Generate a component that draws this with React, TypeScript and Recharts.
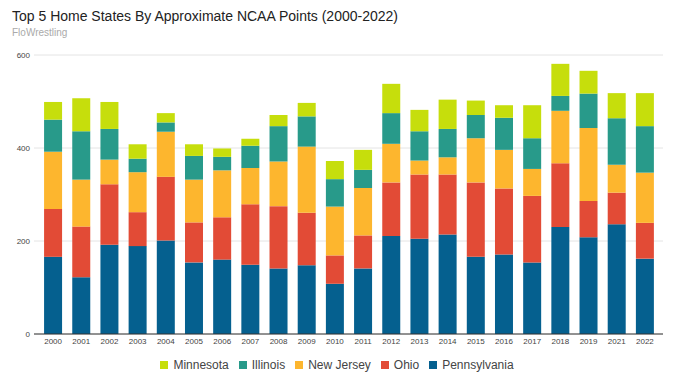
import { Bar, BarChart, CartesianGrid, XAxis, YAxis } from 'recharts';

const years = [
	'2000', '2001', '2002', '2003', '2004', '2005', '2006', '2007', '2008', '2009', '2010',
	'2011', '2012', '2013', '2014', '2015', '2016', '2017', '2018', '2019', '2021', '2022',
];

const pennsylvania = [166, 122, 192, 189, 201, 154, 160, 149, 141, 148, 108, 141, 211, 205, 214, 166, 171, 154, 230, 208, 236, 162];
const ohio = [103, 109, 130, 73, 137, 86, 91, 130, 134, 113, 61, 71, 115, 138, 129, 160, 142, 143, 137, 78, 68, 77];
const newJersey = [123, 101, 53, 86, 97, 92, 101, 78, 96, 142, 105, 102, 83, 30, 37, 95, 83, 58, 113, 157, 60, 108];
const illinois = [69, 104, 66, 29, 20, 51, 29, 48, 76, 65, 59, 39, 66, 63, 61, 50, 69, 66, 32, 74, 100, 100];
const minnesota = [38, 71, 58, 31, 20, 25, 18, 15, 24, 29, 39, 43, 63, 46, 63, 31, 27, 71, 69, 49, 54, 71];

const yTicks = [0, 200, 400, 600];

// bottom to top
const series = [
	{ key: 'pa', name: 'Pennsylvania', color: '#05608f', values: pennsylvania },
	{ key: 'oh', name: 'Ohio', color: '#e24b36', values: ohio },
	{ key: 'nj', name: 'New Jersey', color: '#fdb62e', values: newJersey },
	{ key: 'il', name: 'Illinois', color: '#289a8a', values: illinois },
	{ key: 'mn', name: 'Minnesota', color: '#c6de0c', values: minnesota },
];

const data = years.map((year, i) => {
	const row: Record<string, string | number> = { year };
	series.forEach((s) => {
		row[s.key] = s.values[i];
	});
	return row;
});

const font = '"Liberation Sans", Arial, sans-serif';

export default function App() {
	return (
		<div
			style={{
				position: 'absolute',
				left: 0,
				top: 0,
				width: 680,
				height: 382,
				background: '#fff',
				fontFamily: font,
			}}
		>
			<div style={{ position: 'absolute', left: 12, top: 8, fontSize: 14, color: '#222', whiteSpace: 'nowrap' }}>
				Top 5 Home States By Approximate NCAA Points (2000-2022)
			</div>
			<div style={{ position: 'absolute', left: 12, top: 27, fontSize: 10, color: '#aaa' }}>FloWrestling</div>

			<BarChart
				width={680}
				height={382}
				data={data}
				margin={{ top: 55, right: 17, bottom: 0, left: 0 }}
				barCategoryGap="18%"
				style={{ position: 'absolute', left: 0, top: 0 }}
			>
				<CartesianGrid stroke="#e4e4e4" vertical={false} />
				<XAxis
					dataKey="year"
					interval={0}
					height={48}
					padding={{ left: 5, right: 4 }}
					tickLine={false}
					tickSize={2}
					tickMargin={2}
					axisLine={{ stroke: '#333' }}
					tick={{ fill: '#444', fontSize: 8, fontFamily: font }}
				/>
				<YAxis
					domain={[0, 600]}
					ticks={yTicks}
					width={34}
					tickLine={false}
					tickSize={2}
					tickMargin={2}
					axisLine={false}
					tick={{ fill: '#444', fontSize: 8, fontFamily: font }}
				/>
				{series.map((s) => (
					<Bar key={s.key} dataKey={s.key} name={s.name} stackId="a" fill={s.color} isAnimationActive={false} />
				))}
			</BarChart>

			<div
				style={{
					position: 'absolute',
					left: 0,
					top: 358,
					width: 684,
					display: 'flex',
					justifyContent: 'center',
					fontSize: 12,
					color: '#444',
				}}
			>
				{[...series].reverse().map((s) => (
					<div key={s.key} style={{ display: 'flex', alignItems: 'center', marginRight: 10 }}>
						<span style={{ width: 8, height: 8, background: s.color, marginRight: 5, display: 'inline-block' }} />
						<span>{s.name}</span>
					</div>
				))}
			</div>
		</div>
	);
}
